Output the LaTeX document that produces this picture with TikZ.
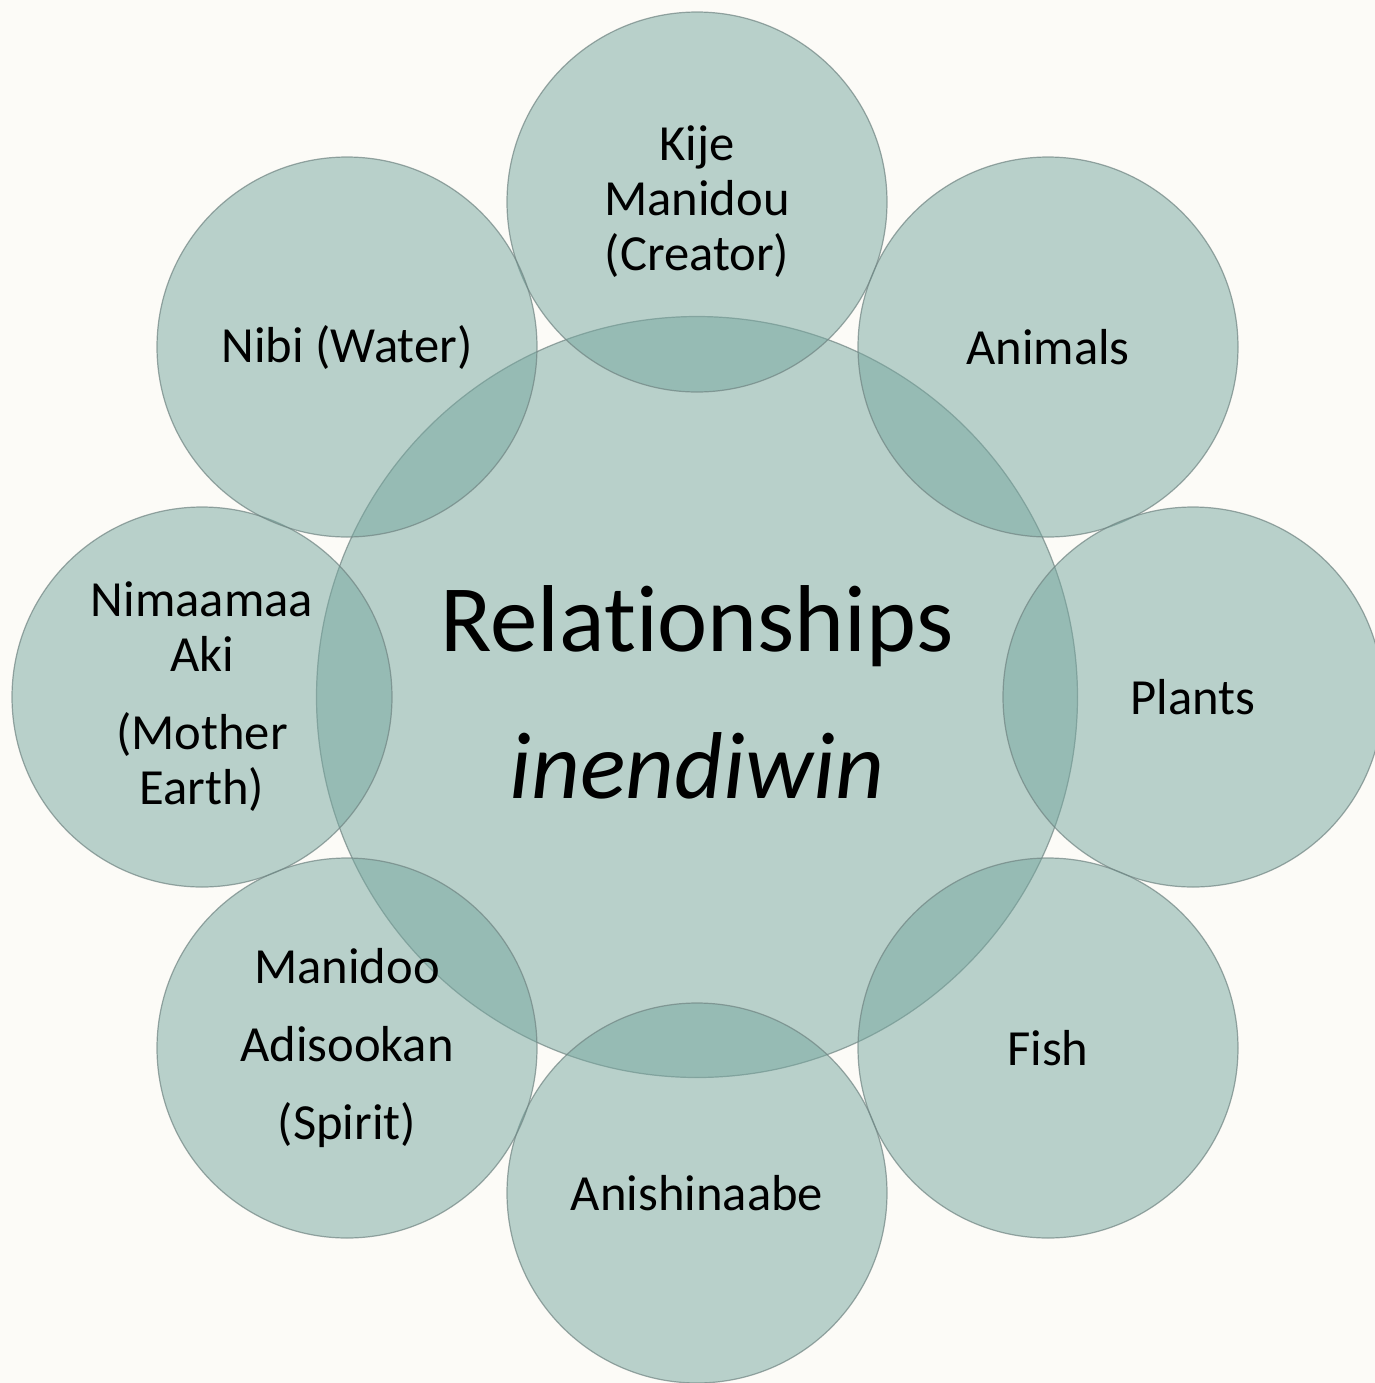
\documentclass[tikz,border=0pt]{standalone}
\usepackage{fontspec}
\setmainfont{Carlito}[Ligatures=NoCommon]
\usepackage{tikz}
\usetikzlibrary{positioning,calc}
\usepackage{xcolor}

\definecolor{bgcream}{RGB}{252,251,247}
\definecolor{sage}{RGB}{118,167,159}
\definecolor{sageline}{RGB}{112,132,130}

\tikzset{
  circ/.style={circle, inner sep=0pt, fill=sage, fill opacity=0.5,
    draw=sageline, draw opacity=0.7, line width=0.6pt, text opacity=1,
    align=center},
  hub/.style={circ, minimum size=380.5pt},
  petal/.style={circ, minimum size=190pt,
    font=\fontsize{25.3}{27.5}\selectfont},
  bigword/.style={anchor=base, inner sep=0pt,
    font=\fontsize{47.5}{50}\selectfont}
}

\begin{document}
\begin{tikzpicture}[x=0.5pt,y=-0.5pt]
    % Page
    \fill[bgcream] (0,0) rectangle (1375,1383);
    \useasboundingbox (0,0) rectangle (1375,1383);
    \clip (0,0) rectangle (1375,1383);

    % Center
    \node[hub] (rel) at (697,697) {};

    % Petals
    \node[petal] (kije) at (697,202) {Kije\\Manidou\\(Creator)};
    \node[petal] (animals) at (1048,347) {Animals};
    \node[petal] (plants) at (1193,697) {Plants};
    \node[petal] (fish) at (1048,1048) {Fish};
    \node[petal] (anish) at (697,1193) {Anishinaabe};
    \node[petal] (spirit) at (347,1048) {Manidoo\\[11.5pt]Adisookan\\[11.5pt](Spirit)};
    \node[petal] (earth) at (202,697) {Nimaamaa\\Aki\\[11.5pt](Mother\\Earth)};
    \node[petal] (water) at (347,347) {Nibi (Water)};

    % Words
    \node[bigword] (relword) at (697,651) {Relationships};
    \node[bigword] (inword) at (697,798) {\itshape inendiwin};
\end{tikzpicture}
\end{document}
